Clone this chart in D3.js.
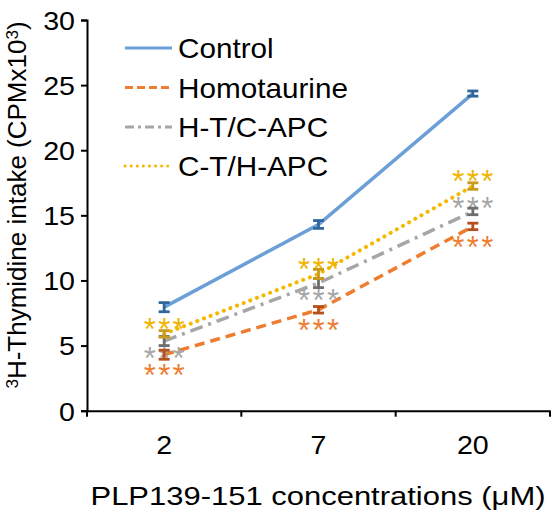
<!DOCTYPE html>
<html>
<head>
<meta charset="utf-8">
<script src="https://cdn.jsdelivr.net/npm/d3@7"></script>
<style>
  html, body { margin: 0; padding: 0; background: #fff; }
  svg { display: block; }
  text { font-family: "Liberation Sans", Arial, Helvetica, sans-serif; fill: #000; }
</style>
</head>
<body>
<svg id="chart" width="551" height="510"></svg>
<script>
// ---- data ----
const categories = ["2", "7", "20"];
const seriesNames = ["Control", "Homotaurine", "H-T/C-APC", "C-T/H-APC"];
const controlValues = [7.95, 14.3, 24.35];
const controlErrors = [0.35, 0.3, 0.2];
const homotaurineValues = [4.3, 7.75, 14.15];
const homotaurineErrors = [0.35, 0.25, 0.25];
const htcapcValues = [5.35, 9.8, 15.3];
const htcapcErrors = [0.35, 0.35, 0.25];
const cthapcValues = [5.9, 10.5, 17.25];
const cthapcErrors = [0.25, 0.35, 0.25];
// significance marks: label and side (above / below the mean)
const homotaurineSig = [["***", "below"], ["***", "below"], ["***", "below"]];
const htcapcSig = [["***", "below"], ["***", "below"], ["***", "above"]];
const cthapcSig = [["***", "above"], ["***", "above"], ["***", "above"]];
const controlSig = [null, null, null];
const yTicks = [0, 5, 10, 15, 20, 25, 30];
const xTitle = "PLP139-151 concentrations (\u03BCM)";

// ---- styles ----
const styles = {
  "Control":     { line: "#6c9fd7", bar: "#2f679c", dash: null,       sig: "#6c9fd7", off: 13 },
  "Homotaurine": { line: "#ed7d31", bar: "#b3501c", dash: "10,6",     sig: "#ed7d31", off: 14 },
  "H-T/C-APC":   { line: "#a6a6a6", bar: "#6e6e6e", dash: "13,6,3,6", sig: "#a6a6a6", off: 10 },
  "C-T/H-APC":   { line: "#f5b800", bar: "#c99b1c", dash: "0.1,7",    sig: "#f0b400", off: 12 }
};
const seriesData = [
  { name: "Control", values: controlValues, errors: controlErrors, sig: controlSig },
  { name: "Homotaurine", values: homotaurineValues, errors: homotaurineErrors, sig: homotaurineSig },
  { name: "H-T/C-APC", values: htcapcValues, errors: htcapcErrors, sig: htcapcSig },
  { name: "C-T/H-APC", values: cthapcValues, errors: cthapcErrors, sig: cthapcSig }
];

const SX = 1.1;   // horizontal text stretch of the reference
const FS = 26;

const svg = d3.select("#chart");
const x = d3.scaleBand().domain(categories).range([87, 550]).padding(0);
const y = d3.scaleLinear().domain([0, 30]).range([410.7, 20]);
const cx = d => x(d) + x.bandwidth() / 2;

// ---- lines ----
const line = d3.line().x((v, i) => cx(categories[i])).y(v => y(v));
const lineOrder = ["Homotaurine", "H-T/C-APC", "C-T/H-APC", "Control"];
lineOrder.forEach(n => {
  const s = seriesData.find(d => d.name === n);
  const st = styles[n];
  svg.append("path")
    .attr("d", line(s.values))
    .attr("fill", "none")
    .attr("stroke", st.line)
    .attr("stroke-width", n === "C-T/H-APC" ? 4 : 3.5)
    .attr("stroke-linecap", n === "C-T/H-APC" ? "round" : "butt")
    .attr("stroke-dasharray", st.dash);
});

// ---- significance asterisks ----
const AFS = 31;
seriesData.forEach(s => {
  s.sig.forEach((sg, i) => {
    if (!sg) return;
    const off = styles[s.name].off;
    const yc = y(s.values[i]) + (sg[1] === "above" ? -off : off);
    svg.append("text")
      .attr("transform", `translate(${cx(categories[i]) + 1.2},${yc + 0.57 * AFS})`)
      .attr("text-anchor", "middle")
      .attr("font-size", AFS)
      .attr("letter-spacing", 2.4)
      .style("fill", styles[s.name].sig)
      .text(sg[0]);
  });
});

// ---- error bars ----
const CAP = 5.5;
seriesData.forEach(s => {
  const g = svg.append("g").attr("stroke", styles[s.name].bar).attr("stroke-width", 2.8).attr("fill", "none");
  s.values.forEach((v, i) => {
    const px = cx(categories[i]);
    const y1 = y(v + s.errors[i]), y0 = y(v - s.errors[i]);
    g.append("line").attr("x1", px).attr("x2", px).attr("y1", y1).attr("y2", y0);
    g.append("line").attr("x1", px - CAP).attr("x2", px + CAP).attr("y1", y1).attr("y2", y1);
    g.append("line").attr("x1", px - CAP).attr("x2", px + CAP).attr("y1", y0).attr("y2", y0);
  });
});

// ---- axes ----
const yAxis = d3.axisLeft(y).tickValues(yTicks).tickSize(6).tickPadding(0);
const yg = svg.append("g").attr("transform", "translate(87,0)").call(yAxis);
yg.select(".domain").attr("stroke", "#000").attr("stroke-width", 2);
yg.selectAll(".tick line").attr("stroke", "#000").attr("stroke-width", 2);
yg.selectAll(".tick text")
  .attr("x", null).attr("dy", "0.36em")
  .attr("transform", `translate(-12,0) scale(${SX},1)`)
  .attr("font-size", FS).attr("font-family", null);

const xAxis = d3.axisBottom(x).tickSize(0).tickPadding(0);
const xg = svg.append("g").attr("transform", "translate(0,410.7)").call(xAxis);
xg.select(".domain").attr("stroke", "#000").attr("stroke-width", 2);
xg.selectAll(".tick text")
  .attr("y", 0).attr("dy", null)
  .attr("transform", `translate(0,43) scale(${SX},1)`)
  .attr("font-size", FS).attr("font-family", null);
const boundaries = categories.map(c => x(c)).concat([x.range()[1]]);
xg.selectAll(".bound").data(boundaries).enter().append("line")
  .attr("class", "bound")
  .attr("x1", d => d).attr("x2", d => d)
  .attr("y1", 0).attr("y2", 6)
  .attr("stroke", "#000").attr("stroke-width", 2);

// ---- axis titles ----
svg.append("text")
  .attr("x", 318).attr("y", 505)
  .attr("text-anchor", "middle")
  .attr("font-size", FS)
  .attr("textLength", 455).attr("lengthAdjust", "spacingAndGlyphs")
  .text(xTitle);

const yt = svg.append("text")
  .attr("transform", "translate(26,205) rotate(-90)")
  .attr("text-anchor", "middle")
  .attr("font-size", FS);
yt.append("tspan").attr("font-size", 17).attr("dy", -8).text("3");
yt.append("tspan").attr("dy", 8).text("H-Thymidine intake (CPMx10");
yt.append("tspan").attr("font-size", 17).attr("dy", -8).text("3");
yt.append("tspan").attr("dy", 8).text(")");

// ---- legend ----
const legendY = [48, 87.5, 127, 166];
seriesNames.forEach((n, i) => {
  const st = styles[n];
  svg.append("line")
    .attr("x1", 125).attr("x2", 172)
    .attr("y1", legendY[i]).attr("y2", legendY[i])
    .attr("stroke", st.line)
    .attr("stroke-width", 3)
    .attr("stroke-linecap", n === "C-T/H-APC" ? "round" : "butt")
    .attr("stroke-dasharray", n === "C-T/H-APC" ? "0.1,6" : (n === "Homotaurine" ? "8,4" : (n === "H-T/C-APC" ? "9,4,3,4" : null)));
  svg.append("text")
    .attr("transform", `translate(178,${legendY[i] + 10}) scale(${SX},1)`)
    .attr("font-size", 27)
    .text(n);
});
</script>
</body>
</html>
